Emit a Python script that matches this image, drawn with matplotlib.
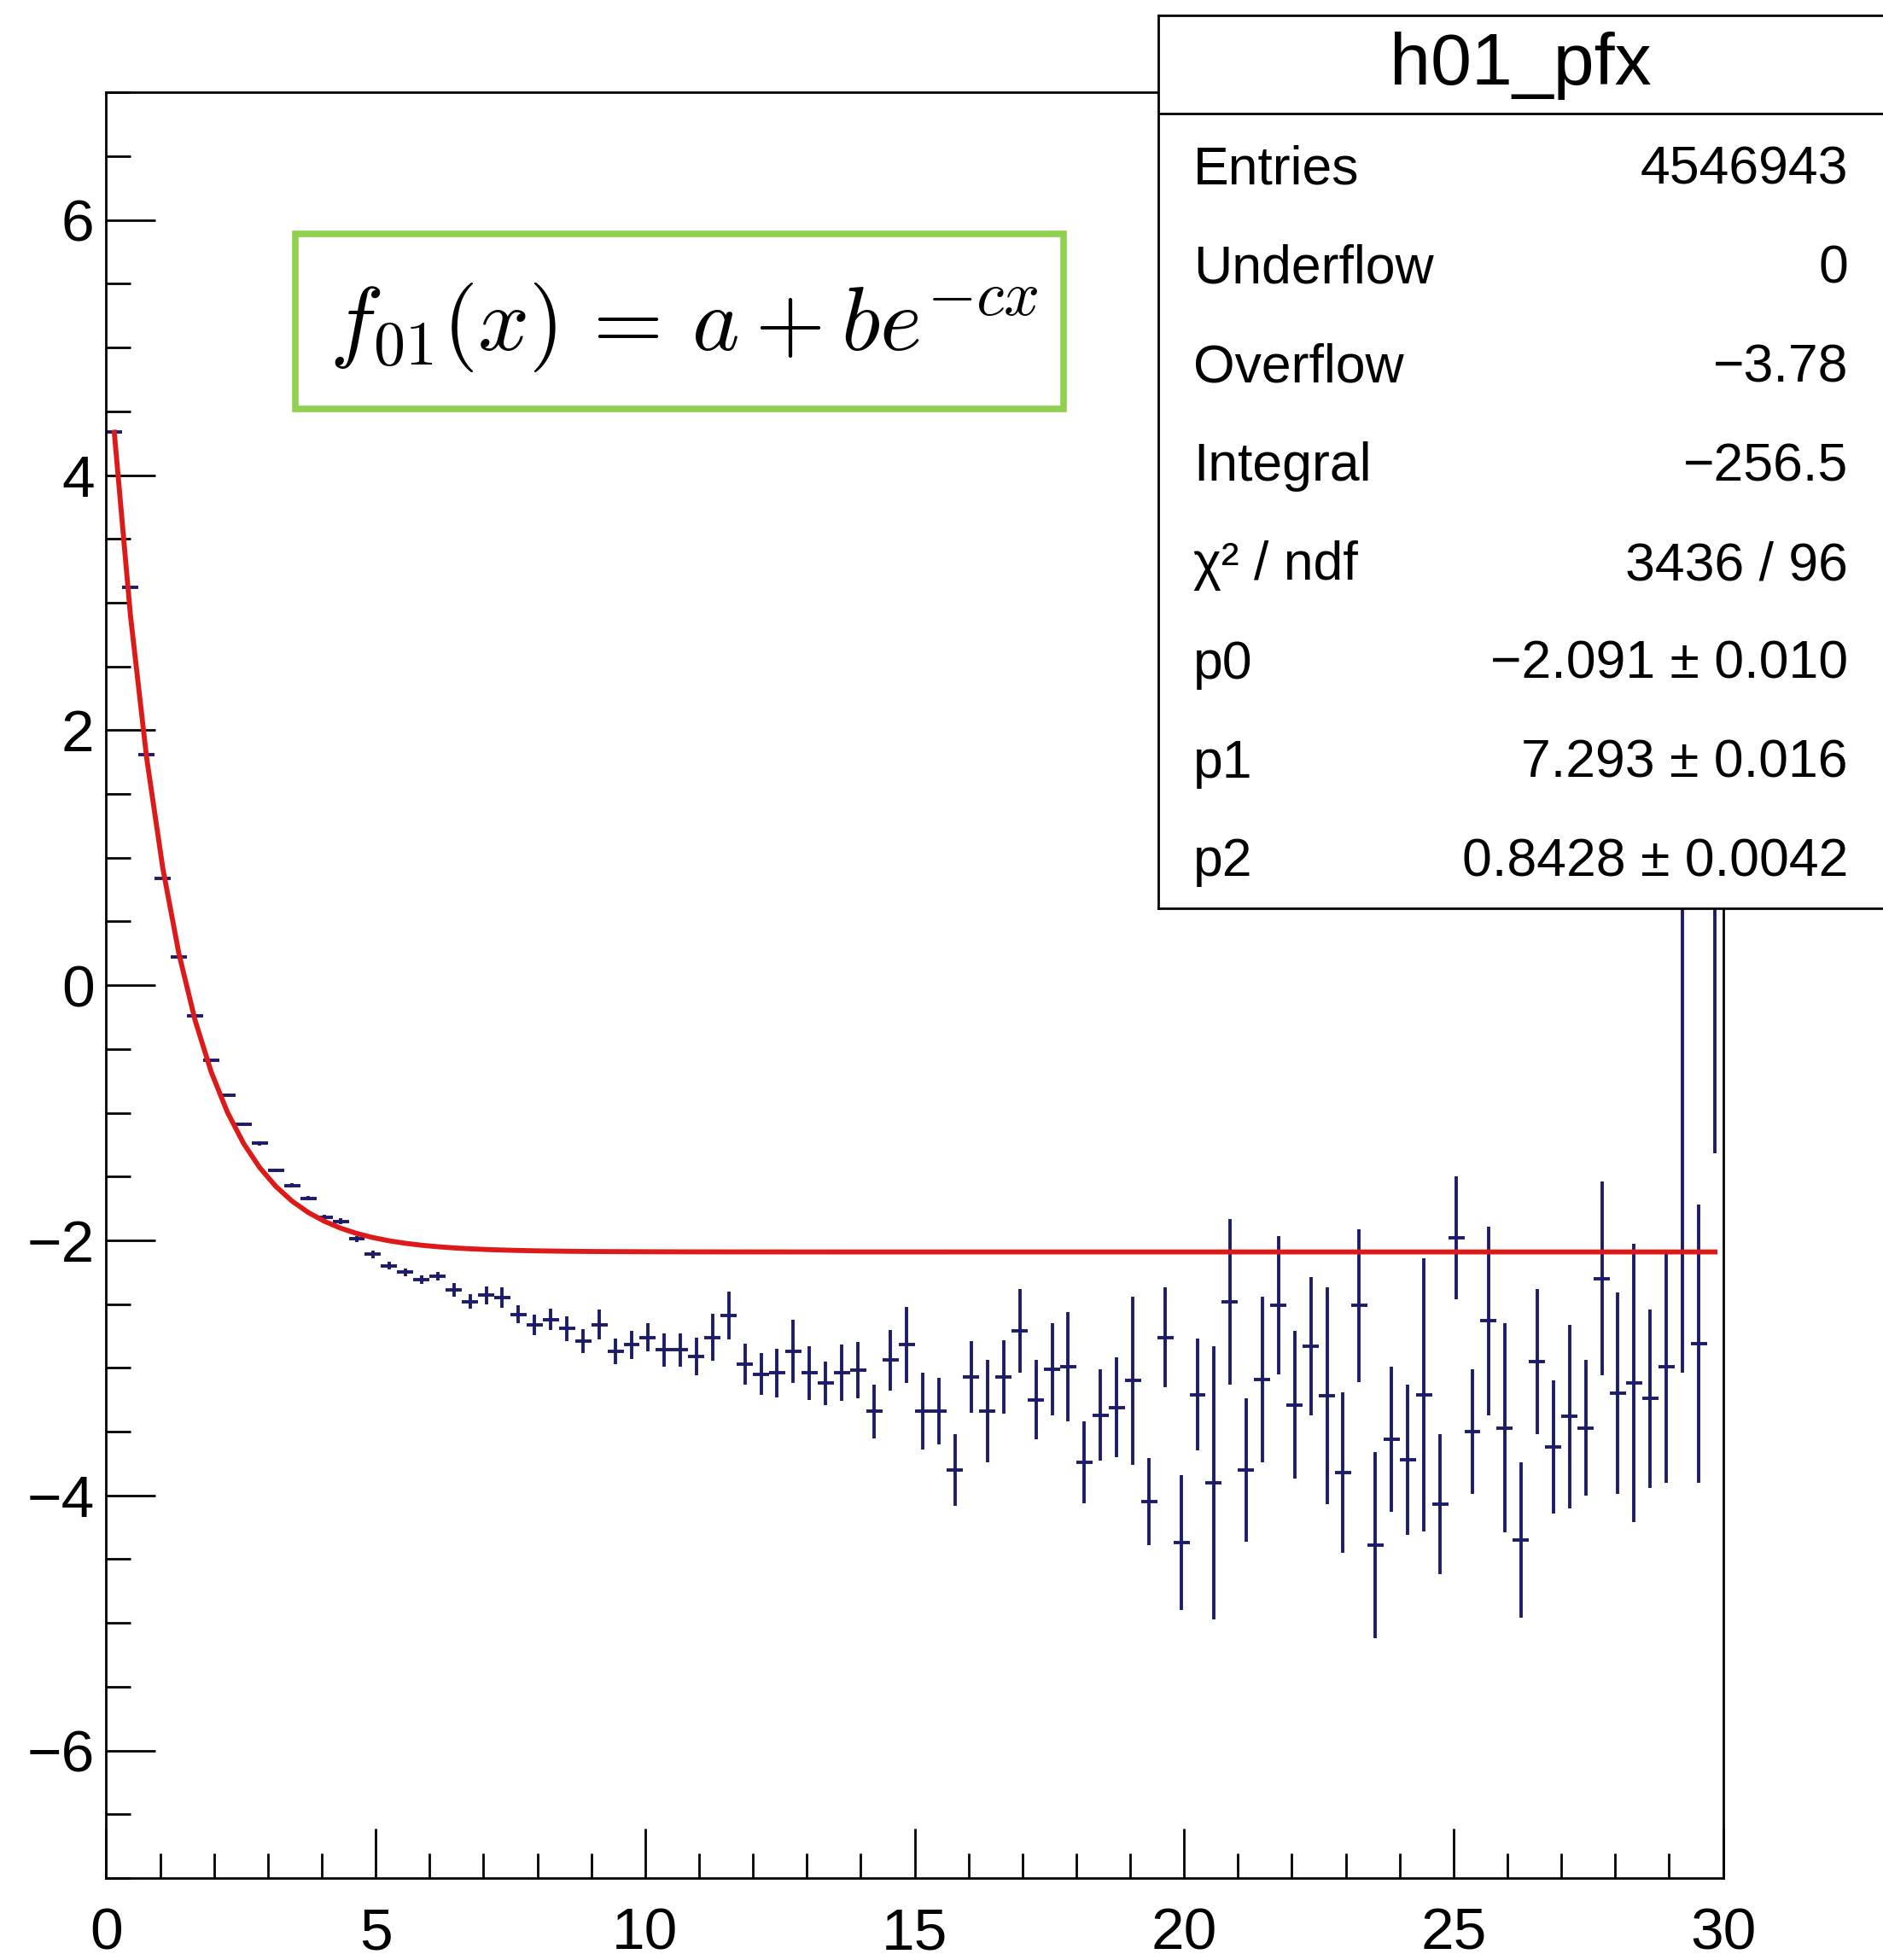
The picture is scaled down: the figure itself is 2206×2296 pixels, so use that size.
import numpy as np
import matplotlib
matplotlib.use('Agg')
import matplotlib.pyplot as plt
from matplotlib.patches import Rectangle

plt.rcParams['font.family'] = ['Liberation Sans', 'DejaVu Sans']
plt.rcParams['mathtext.fontset'] = 'cm'

# profile histogram h01_pfx: 100 bins on [0, 30]
bin_width = 0.3
y_vals = [4.34, 3.12, 1.81, 0.84, 0.22, -0.24, -0.59, -0.86, -1.09, -1.24,
          -1.45, -1.57, -1.67, -1.82, -1.85, -1.99, -2.11, -2.20, -2.25, -2.31,
          -2.28, -2.39, -2.48, -2.43, -2.45, -2.58, -2.66, -2.62, -2.69, -2.79,
          -2.66, -2.87, -2.82, -2.76, -2.86, -2.86, -2.91, -2.76, -2.59, -2.97,
          -3.05, -3.04, -2.87, -3.04, -3.12, -3.04, -3.02, -3.34, -2.94, -2.82,
          -3.34, -3.34, -3.80, -3.07, -3.34, -3.07, -2.71, -3.25, -3.01, -2.99,
          -3.74, -3.37, -3.31, -3.10, -4.05, -2.76, -4.37, -3.21, -3.90, -2.48,
          -3.80, -3.09, -2.51, -3.29, -2.83, -3.22, -3.82, -2.51, -4.39, -3.56,
          -3.72, -3.21, -4.07, -1.98, -3.50, -2.63, -3.47, -4.35, -2.95, -3.62,
          -3.38, -3.47, -2.30, -3.20, -3.12, -3.24, -2.99, 0.80, -2.81, 1.50]
y_errs = [0.01, 0.01, 0.01, 0.01, 0.01, 0.01, 0.01, 0.012, 0.012, 0.015,
          0.015, 0.015, 0.018, 0.02, 0.022, 0.025, 0.028, 0.03, 0.03, 0.032,
          0.035, 0.055, 0.055, 0.07, 0.08, 0.072, 0.08, 0.083, 0.097, 0.095,
          0.115, 0.10, 0.11, 0.11, 0.133, 0.128, 0.145, 0.187, 0.187, 0.163,
          0.163, 0.19, 0.25, 0.21, 0.17, 0.22, 0.22, 0.21, 0.24, 0.30,
          0.30, 0.26, 0.28, 0.28, 0.40, 0.29, 0.33, 0.31, 0.36, 0.43,
          0.32, 0.36, 0.39, 0.66, 0.34, 0.39, 0.53, 0.44, 1.07, 0.65,
          0.56, 0.65, 0.54, 0.58, 0.54, 0.85, 0.63, 0.60, 0.73, 0.57,
          0.59, 1.07, 0.55, 0.48, 0.49, 0.74, 0.82, 0.61, 0.57, 0.52,
          0.72, 0.53, 0.76, 0.79, 1.09, 0.70, 0.91, 3.84, 1.09, 2.82]
x_centers = np.arange(len(y_vals)) * bin_width + bin_width / 2

# fit parameters shown in the stats box
p0 = -2.091
p1 = 7.293
p2 = 0.8428

stat_names = ['Entries', 'Underflow', 'Overflow', 'Integral', 'χ² / ndf', 'p0', 'p1', 'p2']
stat_values = ['4546943', '0', '−3.78', '−256.5', '3436 / 96',
               '−2.091 ± 0.010', '7.293 ± 0.016', '0.8428 ± 0.0042']

W, H = 2206, 2296
fig = plt.figure(figsize=(W / 100, H / 100), dpi=100)

def fx(px):
    return px / W

def fy(py):
    return 1 - py / H

ax = fig.add_axes([fx(124.4), fy(2200), fx(2018.6) - fx(124.4), fy(108.3) - fy(2200)])

ax.errorbar(x_centers, y_vals, xerr=bin_width / 2, yerr=y_errs, fmt='none',
            ecolor='#1c1c6b', elinewidth=2.8, capsize=0, zorder=2)

# fit curve drawn with 100 points like ROOT does
xf = np.linspace(0.15, 29.85, 100)
ax.plot(xf, p0 + p1 * np.exp(-p2 * xf), color='#dd1a1a', linewidth=4.2, zorder=3)

ax.set_xlim(0, 30)
ax.set_ylim(-7, 7)
ax.set_xticks(np.arange(0, 31, 5))
ax.set_xticks(np.arange(0, 31, 1), minor=True)
ax.set_yticks(np.arange(-6, 7, 2))
ax.set_yticks(np.arange(-7, 7.01, 0.5), minor=True)
ax.tick_params(which='both', direction='in', top=False, right=False, width=2)
ax.tick_params(which='major', length=42, labelsize=50)
ax.tick_params(which='minor', length=21)
ax.tick_params(axis='x', which='major', pad=24)
ax.tick_params(axis='y', which='major', pad=10)
for s in ax.spines.values():
    s.set_linewidth(2)

# formula box
fig.patches.append(Rectangle((fx(345.5), fy(478.7)), fx(1245.7) - fx(345.5), fy(273.7) - fy(478.7),
                             transform=fig.transFigure, facecolor='white',
                             edgecolor='#8fd14f', linewidth=5.5, zorder=5))
fig.text(fx(801), fy(383), r'$f_{01}(x)\,=\,a+be^{-cx}$', fontsize=76,
         ha='center', va='center', zorder=6)

# stats box
sb = fig.add_axes([fx(1357), fy(1064), 1.01 - fx(1357), fy(17.6) - fy(1064)])
sb.set_xticks([])
sb.set_yticks([])
sb.set_xlim(0, 1)
sb.set_ylim(0, 1)
sb.set_facecolor('white')
for s in sb.spines.values():
    s.set_linewidth(2)
sb.plot([0, 1], [1 - (133 - 17.6) / (1064 - 17.6)] * 2, color='black', linewidth=2)

fig.text(fx(1781), fy(99), 'h01_pfx', fontsize=62, ha='center', va='baseline', zorder=10)
for i, (name, val) in enumerate(zip(stat_names, stat_values)):
    yb = (147.5 + 79.1 * i) * 1.4638
    fig.text(fx(1398), fy(yb), name, fontsize=45, ha='left', va='baseline', zorder=10)
    fig.text(fx(2165), fy(yb), val, fontsize=45, ha='right', va='baseline', zorder=10)

fig.savefig('out.png', dpi=100)
